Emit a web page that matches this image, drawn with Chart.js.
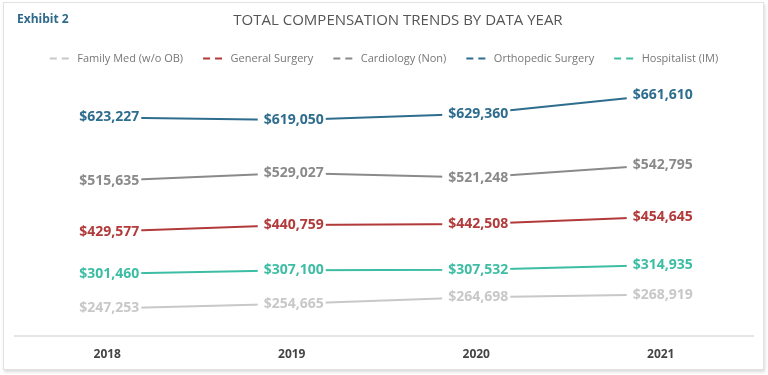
<!DOCTYPE html>
<html><head><meta charset="utf-8">
<script src="https://cdn.jsdelivr.net/npm/chart.js@4.4.0/dist/chart.umd.min.js"></script>
<style>
html,body{margin:0;padding:0;background:#fff;width:768px;height:375px;overflow:hidden;font-family:"Open Sans",sans-serif;}
#card{position:absolute;left:3px;top:2px;width:759px;height:366px;border:1px solid #e2e2e2;box-shadow:1px 2px 3px rgba(0,0,0,0.15);background:#fff;}
#exhibit{position:absolute;left:17px;top:10px;font-size:12px;font-weight:700;color:#2f6a8a;line-height:18px;}
#title{position:absolute;left:0;width:796px;top:9px;text-align:center;font-size:15px;color:#555;line-height:20px;}
#chart{position:absolute;left:0;top:0;}
</style></head>
<body>
<div id="card"></div>
<canvas id="chart" width="768" height="375"></canvas>
<div id="exhibit">Exhibit 2</div>
<div id="title">TOTAL COMPENSATION TRENDS BY DATA YEAR</div>
<script>
const years = ['2018', '2019', '2020', '2021'];
const familyMed = [247253, 254665, 264698, 268919];
const generalSurgery = [429577, 440759, 442508, 454645];
const cardiology = [515635, 529027, 521248, 542795];
const orthopedic = [623227, 619050, 629360, 661610];
const hospitalist = [301460, 307100, 307532, 314935];
const seriesNames = ['Family Med (w/o OB)', 'General Surgery', 'Cardiology (Non)', 'Orthopedic Surgery', 'Hospitalist (IM)'];

const colors = ['#c8c8c8', '#b23a3a', '#8a8a8a', '#2e6d8e', '#3dbea4'];
const seriesData = [familyMed, generalSurgery, cardiology, orthopedic, hospitalist];
const axisFor = ['yB', 'yA', 'yA', 'yA', 'yB'];

const datasets = seriesData.map((d, i) => ({
  label: seriesNames[i],
  data: d,
  borderColor: colors[i],
  backgroundColor: colors[i],
  borderWidth: 2,
  pointRadius: 0,
  tension: 0,
  yAxisID: axisFor[i]
}));

const labelPlugin = {
  id: 'valueLabels',
  afterDatasetsDraw(chart) {
    const ctx = chart.ctx;
    ctx.save();
    ctx.font = 'bold 14px "Open Sans"';
    ctx.textAlign = 'center';
    ctx.textBaseline = 'middle';
    chart.data.datasets.forEach((ds, di) => {
      const meta = chart.getDatasetMeta(di);
      meta.data.forEach((pt, i) => {
        const txt = '$' + ds.data[i].toLocaleString('en-US');
        const w = ctx.measureText(txt).width;
        ctx.fillStyle = '#ffffff';
        ctx.fillRect(pt.x - w / 2 - 4, pt.y - 9, w + 8, 18);
        ctx.fillStyle = ds.borderColor;
        ctx.fillText(txt, pt.x + 2, pt.y);
      });
    });
    ctx.restore();
  }
};

new Chart(document.getElementById('chart'), {
  type: 'line',
  data: { labels: years, datasets },
  plugins: [labelPlugin],
  options: {
    responsive: false,
    animation: false,
    devicePixelRatio: 1,
    layout: { padding: { top: 33, left: 15, right: 15, bottom: 1 } },
    plugins: {
      tooltip: { enabled: false },
      legend: {
        position: 'top',
        labels: {
          usePointStyle: true,
          pointStyleWidth: 22,
          boxHeight: 11,
          padding: 20,
          color: '#777',
          font: { family: '"Open Sans"', size: 11 },
          generateLabels(chart) {
            return Chart.defaults.plugins.legend.labels.generateLabels(chart).map(it => Object.assign(it, {
              pointStyle: 'line', lineDash: [7, 5], lineWidth: 2, fontColor: '#777'
            }));
          }
        }
      }
    },
    scales: {
      x: {
        offset: true,
        grid: { display: false, drawTicks: false },
        border: { display: true, color: '#e6e6e6', width: 2 },
        ticks: { color: '#444', padding: 12, font: { family: '"Open Sans"', size: 12, weight: 'bold' } }
      },
      yA: { display: false, min: 253000, max: 697000 },
      yB: { display: false, min: 205000, max: 613000 }
    }
  }
});
</script>
</body></html>
